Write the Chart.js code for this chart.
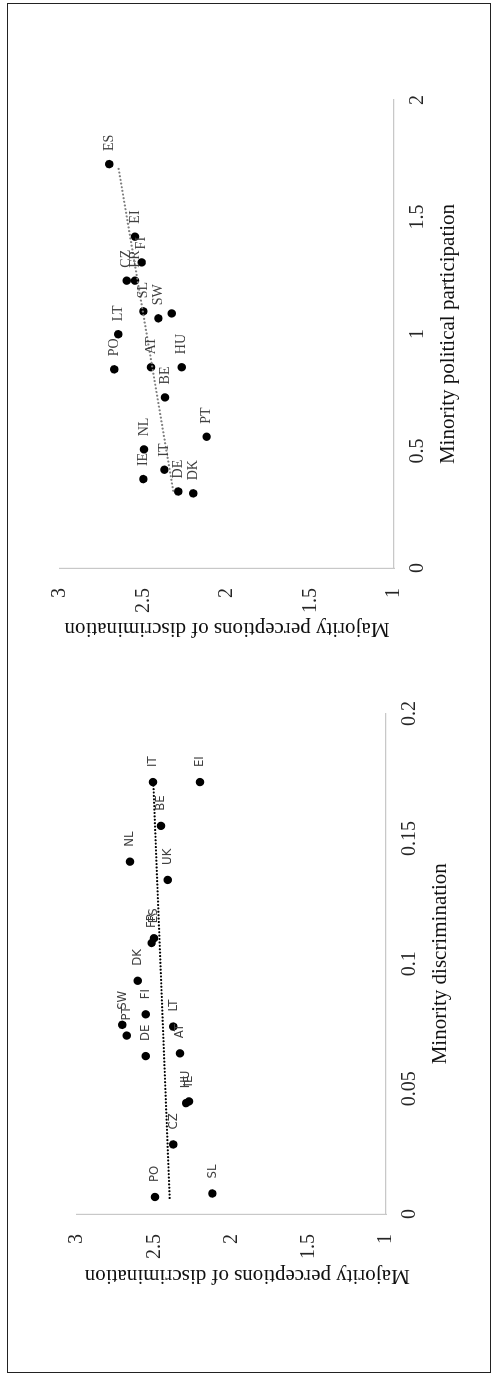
<!DOCTYPE html>
<html>
<head>
<meta charset="utf-8">
<script src="https://cdn.jsdelivr.net/npm/chart.js@4.4.0/dist/chart.umd.min.js"></script>
<style>
  body { margin: 0; background: #fff; }
  /* the whole page is laid out in landscape and turned a quarter left */
  #page { position: absolute; left: 0; top: 0; width: 1378px; height: 496px;
          transform-origin: 0 0; transform: translate(0, 1378px) rotate(-90deg); }
  #frame { position: absolute; left: 5px; top: 7px; width: 1370px; height: 484px;
           box-sizing: border-box; border: 1.5px solid #222; }
  canvas { position: absolute; top: 0; }
  #chart1 { left: 0; }
  #chart2 { left: 689px; }
</style>
</head>
<body>
<div id="page">
  <div id="frame"></div>
  <canvas id="chart1" width="689" height="496"></canvas>
  <canvas id="chart2" width="689" height="496"></canvas>
</div>
<script>
// left panel: minority discrimination
const countries1 = ['PO', 'SL', 'CZ', 'HU', 'IE', 'DE', 'AT', 'LT', 'PT', 'SW', 'FI', 'DK', 'FR', 'ES', 'UK', 'NL', 'BE', 'IT', 'EI']
const discrimination = [0.0068, 0.0082, 0.0278, 0.0443, 0.0450, 0.0631, 0.0642, 0.0749, 0.0713, 0.0756, 0.0798, 0.0932, 0.1083, 0.1102, 0.1335, 0.1408, 0.1551, 0.1726, 0.1726]
const perceptions1 = [2.495, 2.124, 2.377, 2.294, 2.275, 2.555, 2.333, 2.377, 2.678, 2.707, 2.555, 2.607, 2.517, 2.502, 2.413, 2.657, 2.456, 2.508, 2.204]
const trend1X = [0.0064, 0.1726]
const trend1Y = [2.400, 2.506]
const xTicks1 = [0, 0.05, 0.1, 0.15, 0.2]

// right panel: minority political participation
const countries2 = ['DK', 'DE', 'IE', 'IT', 'NL', 'PT', 'BE', 'PO', 'AT', 'HU', 'LT', 'SW', 'UK', 'SL', 'CZ', 'FR', 'FI', 'EI', 'ES']
const participation = [0.319, 0.327, 0.380, 0.420, 0.507, 0.561, 0.729, 0.849, 0.858, 0.858, 0.999, 1.067, 1.088, 1.097, 1.228, 1.228, 1.306, 1.416, 1.726]
const perceptions2 = [2.202, 2.292, 2.501, 2.375, 2.497, 2.122, 2.371, 2.675, 2.455, 2.271, 2.651, 2.411, 2.331, 2.501, 2.600, 2.551, 2.511, 2.551, 2.705]
const unlabeled2 = ['UK']
const trend2X = [0.330, 1.715]
const trend2Y = [2.322, 2.651]
const xTicks2 = [0, 0.5, 1, 1.5, 2]

const yTicks = [1, 1.5, 2, 2.5, 3]

const serif = "'Liberation Serif', 'Times New Roman', serif"

const pointLabels = {
    id: 'pointLabels',
    afterDatasetsDraw(chart, args, opts) {
        const ctx = chart.ctx
        const meta = chart.getDatasetMeta(1)
        ctx.save()
        ctx.font = opts.font
        ctx.fillStyle = opts.color
        ctx.textBaseline = 'middle'
        ctx.textAlign = 'left'
        meta.data.forEach((pt, i) => {
            const name = opts.names[i]
            if (opts.skip.includes(name)) return
            ctx.fillText(name, pt.x + opts.offset, pt.y)
        })
        ctx.restore()
    }
}

function pairs(xs, ys) {
    return xs.map((x, i) => ({x: x, y: ys[i]}))
}

function buildChart(id, c) {
    return new Chart(document.querySelector(id).getContext('2d'), {
        type: 'scatter',
        data: {
            datasets: [{
                data: pairs(c.trendX, c.trendY),
                showLine: true,
                pointRadius: 0,
                borderColor: c.trendColor,
                borderWidth: 2.2,
                borderDash: [0.01, c.dashGap],
                borderCapStyle: 'round',
                fill: false
            }, {
                data: pairs(c.xs, c.ys),
                pointRadius: 4.2,
                pointBackgroundColor: '#000',
                pointBorderWidth: 0
            }]
        },
        options: {
            responsive: false,
            animation: false,
            devicePixelRatio: 1,
            layout: {padding: c.padding},
            plugins: {
                legend: {display: false},
                tooltip: {enabled: false},
                pointLabels: {names: c.names, skip: c.skip, font: c.labelFont, color: '#404040', offset: c.labelOffset}
            },
            scales: {
                x: {
                    type: 'linear',
                    min: c.xTicks[0],
                    max: c.xTicks[c.xTicks.length - 1],
                    afterBuildTicks: s => { s.ticks = c.xTicks.map(v => ({value: v})) },
                    afterFit: s => { s.height = 67 },
                    grid: {display: false, drawTicks: false},
                    border: {display: true, color: '#c8c8c8', width: 1.2},
                    ticks: {padding: 12, color: '#262626', font: {family: serif, size: 20}, maxRotation: 0,
                            callback: v => String(v)},
                    title: {display: true, text: c.xTitle, color: '#111', padding: 0, font: {family: serif, size: 21}}
                },
                y: {
                    type: 'linear',
                    min: yTicks[0],
                    max: yTicks[yTicks.length - 1],
                    afterBuildTicks: s => { s.ticks = yTicks.map(v => ({value: v})) },
                    afterFit: s => { s.width = c.yWidth },
                    grid: {display: false, drawTicks: false},
                    border: {display: true, color: '#c8c8c8', width: 1.2},
                    ticks: {padding: 20, color: '#262626', font: {family: serif, size: 20},
                            callback: v => String(v)},
                    title: {display: true, text: c.yTitle, color: '#111', padding: 0, font: {family: serif, size: 21}}
                }
            }
        },
        plugins: [pointLabels]
    })
}

buildChart('#chart1', {
    xs: discrimination, ys: perceptions1, names: countries1, skip: [],
    trendX: trend1X, trendY: trend1Y, trendColor: '#000', dashGap: 3.4,
    xTicks: xTicks1,
    xTitle: 'Minority discrimination',
    // trailing spaces push the title toward the start, as in the original
    yTitle: 'Majority perceptions of discrimination      ',
    yWidth: 74,
    padding: {left: 90, top: 77, right: 22, bottom: 43},
    labelFont: "13px 'DejaVu Sans Condensed', 'Liberation Sans', sans-serif",
    labelOffset: 15
})

buildChart('#chart2', {
    xs: participation, ys: perceptions2, names: countries2, skip: unlabeled2,
    trendX: trend2X, trendY: trend2Y, trendColor: '#7f7f7f', dashGap: 3.7,
    xTicks: xTicks2,
    xTitle: 'Minority political participation',
    yTitle: 'Majority perceptions of discrimination',
    yWidth: 73,
    padding: {left: 48, top: 60, right: 100, bottom: 35},
    labelFont: "14px " + serif,
    labelOffset: 13
})
</script>
</body>
</html>
